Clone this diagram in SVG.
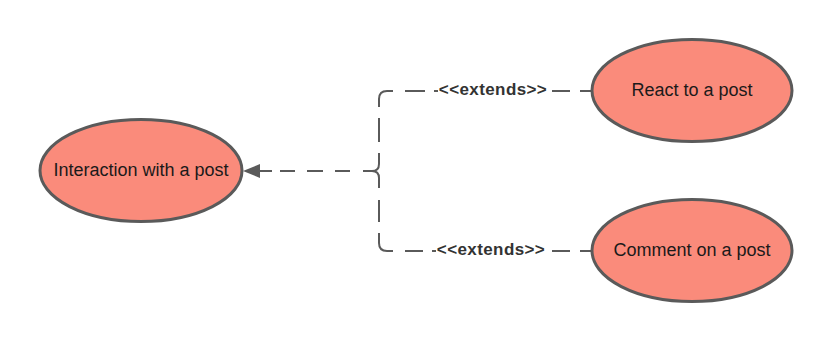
<svg xmlns="http://www.w3.org/2000/svg" width="834" height="343" viewBox="0 0 834 343">
  <style>
    .node ellipse { fill: #fa8b7b; stroke: #5a5a5a; stroke-width: 3; }
    .node text { font-family: "Liberation Sans", Arial, sans-serif; font-size: 18px; fill: #1a1a1a; text-anchor: middle; dominant-baseline: central; }
    .edge { fill: none; stroke: #5a5a5a; stroke-width: 2; stroke-linecap: butt; }
    .label { font-family: "Liberation Sans", Arial, sans-serif; font-size: 17px; font-weight: bold; fill: #333333; text-anchor: middle; dominant-baseline: central; letter-spacing: 0.4px; }
  </style>
  <rect width="834" height="343" fill="#ffffff"/>

  <g id="connectors">
    <!-- upper extension line -->
    <path class="edge" d="M592,91 H580 M570,91 H552 M438,91 H434 M425,91 H405 M393,91 H387 Q379,91 379,99 V107"/>
    <!-- lower extension line -->
    <path class="edge" d="M592,251 H580 M570,251 H552 M436,251 H432 M423,251 H405 M393,251 H387 Q379,251 379,243 V233"/>
    <!-- vertical bracket with the merge point -->
    <path class="edge" d="M379,118 V142 M379,153 V164 Q379,171 372,171 Q379,171 379,178 V188 M372,171 H363 M379,200 V222"/>
    <!-- shared arrow towards the base use case -->
    <path class="edge" d="M350,171 H335 M323,171 H307 M295,171 H280 M272,171 H258"/>
    <path d="M243,171 L260,164 L260,178 Z" fill="#5a5a5a"/>
    <text class="label" x="493" y="89">&lt;&lt;extends&gt;&gt;</text>
    <text class="label" x="491" y="249">&lt;&lt;extends&gt;&gt;</text>
  </g>

  <g id="interaction" class="node">
    <ellipse cx="141" cy="170.5" rx="101" ry="51"/>
    <text x="141" y="170">Interaction with a post</text>
  </g>
  <g id="react" class="node">
    <ellipse cx="692" cy="90.5" rx="100" ry="51"/>
    <text x="692" y="90">React to a post</text>
  </g>
  <g id="comment" class="node">
    <ellipse cx="692" cy="250.5" rx="100" ry="51"/>
    <text x="692" y="250">Comment on a post</text>
  </g>
</svg>
